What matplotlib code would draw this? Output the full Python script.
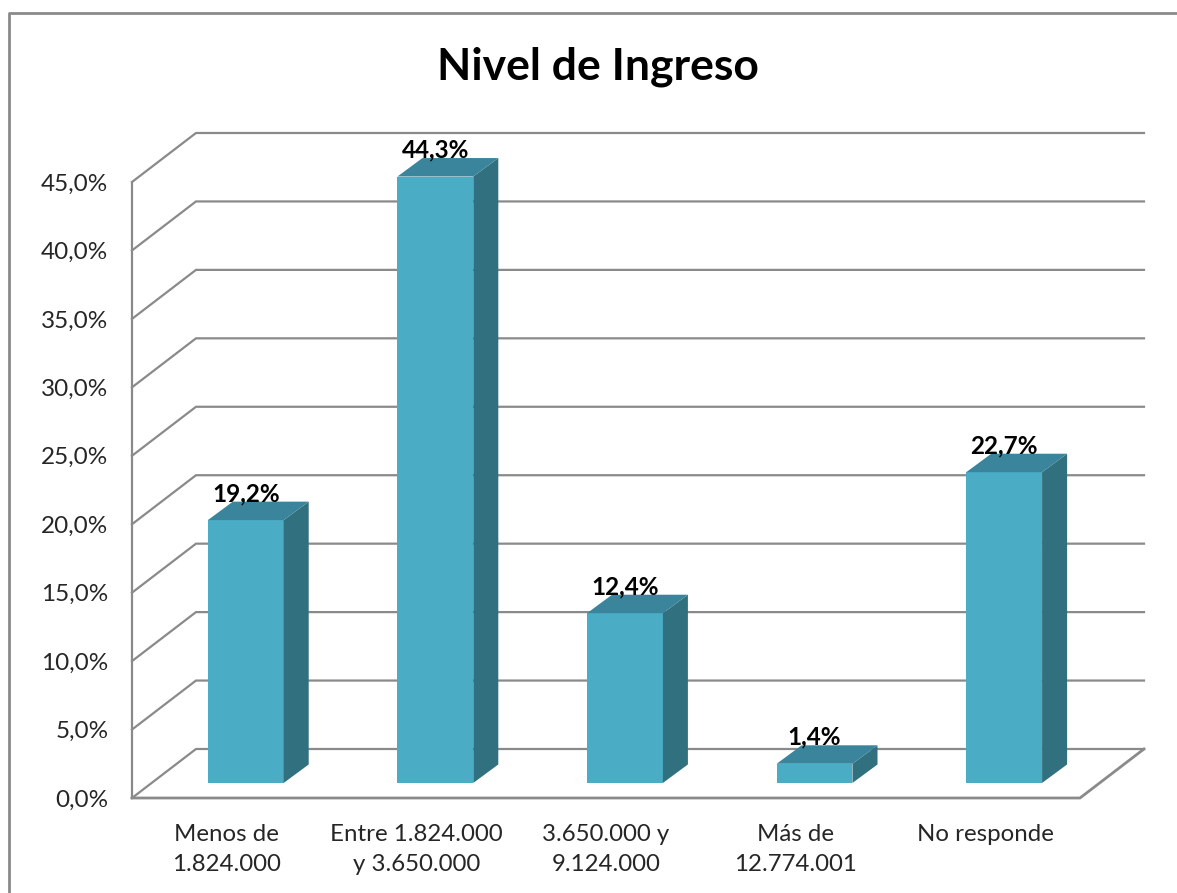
import matplotlib.pyplot as plt
from matplotlib.lines import Line2D

categories = ["Menos de\n1.824.000", "Entre 1.824.000\ny 3.650.000", "3.650.000 y\n9.124.000",
              "Más de\n12.774.001", "No responde"]
values = [19.2, 44.3, 12.4, 1.4, 22.7]
value_labels = ["19,2%", "44,3%", "12,4%", "1,4%", "22,7%"]
y_ticks = [0, 5, 10, 15, 20, 25, 30, 35, 40, 45]
y_tick_labels = ["0,0%", "5,0%", "10,0%", "15,0%", "20,0%", "25,0%", "30,0%", "35,0%", "40,0%", "45,0%"]

W, H = 1177, 893
GRID = "#8a8a8a"
FRONT = "#4bacc6"
SIDE = "#31707f"
TOP = "#3a859b"

# fake 3d: depth of the walls and of the bars, in data units
wall_dx, wall_dy = 0.3375, 3.58
bar_dx, bar_dy = 0.132, 1.35
bar_floor = 1.1
bar_shift = 0.1
bar_width = 0.4

plt.rcParams["font.family"] = ["Lato", "DejaVu Sans"]

fig = plt.figure(figsize=(W / 100, H / 100), dpi=100)
ax = fig.add_axes([132 / W, (H - 798) / H, 948 / W, 616 / H])
ax.set_xlim(-0.5, 4.5)
ax.set_ylim(0, 45)
for spine in ax.spines.values():
    spine.set_visible(False)

x0, x1 = ax.get_xlim()

# walls
for t in y_ticks:
    ax.plot([x0, x0 + wall_dx, x1 + wall_dx], [t, t + wall_dy, t + wall_dy],
            color=GRID, lw=1.6, clip_on=False, zorder=1, solid_joinstyle="miter")
ax.plot([x0, x0], [0, 45], color=GRID, lw=1.6, clip_on=False, zorder=1)
ax.plot([x0, x1, x1 + wall_dx], [0, 0, wall_dy], color=GRID, lw=2, clip_on=False, zorder=1,
        solid_joinstyle="miter")

# bars
for i, v in enumerate(values):
    left = i + bar_shift - bar_width / 2
    right = left + bar_width
    top = bar_floor + v
    ax.bar(i + bar_shift, v, width=bar_width, bottom=bar_floor, color=FRONT, zorder=3, clip_on=False)
    ax.fill([right, right + bar_dx, right + bar_dx, right],
            [bar_floor, bar_floor + bar_dy, top + bar_dy, top],
            color=SIDE, lw=0, zorder=3, clip_on=False)
    ax.fill([left, left + bar_dx, right + bar_dx, right],
            [top, top + bar_dy, top + bar_dy, top],
            color=TOP, lw=0, zorder=3, clip_on=False)
    ax.text(i + bar_shift, top + 1.95, value_labels[i], ha="center", va="center",
            fontsize=17.5, fontweight="bold", color="black", zorder=4, clip_on=False)

ax.set_yticks(y_ticks)
ax.set_yticklabels(y_tick_labels)
ax.set_xticks(range(len(categories)))
ax.set_xticklabels(categories, linespacing=1.5)
ax.tick_params(axis="y", length=0, pad=17, labelsize=17.5, labelcolor="#262626")
ax.tick_params(axis="x", length=0, pad=19, labelsize=17.3, labelcolor="#262626")

fig.text(598 / W, 1 - 67 / H, "Nivel de Ingreso", ha="center", va="center",
         fontsize=32, fontweight="bold", color="black")

# chart frame, cut by the screenshot on the right and bottom
fig.add_artist(Line2D([9 / W, 9 / W, 1], [0, 1 - 13 / H, 1 - 13 / H], color=GRID, lw=2))

fig.savefig("out.png", dpi=100)
